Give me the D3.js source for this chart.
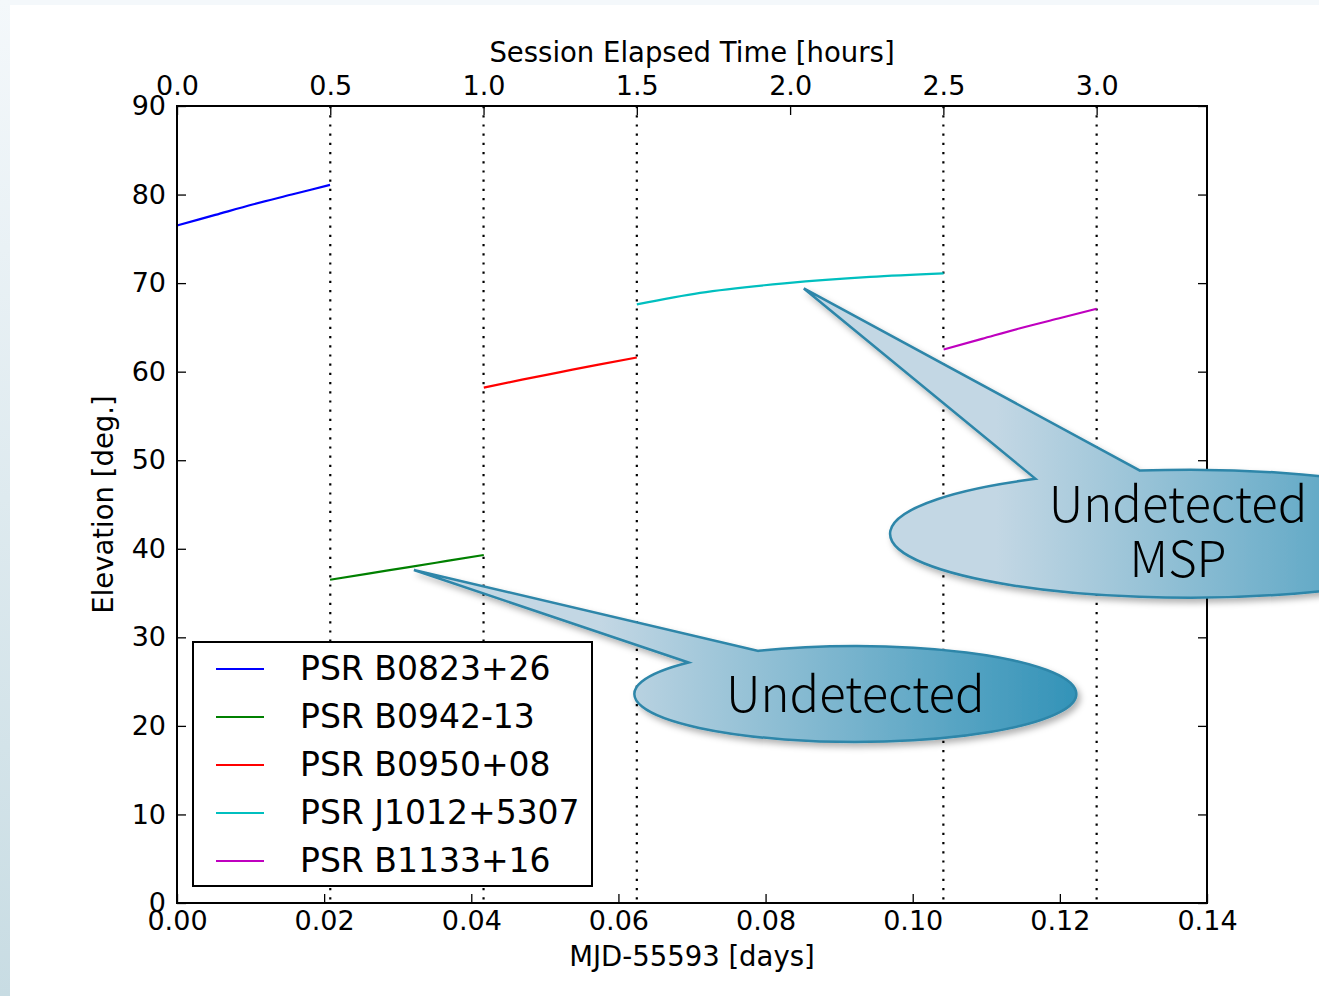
<!DOCTYPE html>
<html>
<head>
<meta charset="utf-8">
<script src="https://cdn.jsdelivr.net/npm/d3@7"></script>
<style>
    body { margin: 0; background: #fff; }
    svg { display: block; }
    .tick text { font-family: "DejaVu Sans", sans-serif; }
</style>
</head>
<body>
<svg id="chart"></svg>
<script>
const width = 1319;
const height = 996;
const margin = {top: 106, right: 112, bottom: 93, left: 177};

// pulsars, in legend order
const pulsars = ['PSR B0823+26', 'PSR B0942-13', 'PSR B0950+08', 'PSR J1012+5307', 'PSR B1133+16'];
const colors = ['#0000ff', '#008000', '#ff0000', '#00bfbf', '#bf00bf'];

// MJD-55593 [days] and elevation [deg]
const daysB0823 = [0.0000, 0.0052, 0.0104, 0.0156, 0.0208];
const elevB0823 = [76.5, 77.7, 78.9, 80.0, 81.1];
const daysB0942 = [0.0208, 0.0260, 0.0313, 0.0365, 0.0417];
const elevB0942 = [36.5, 37.2, 37.9, 38.6, 39.3];
const daysB0950 = [0.0417, 0.0469, 0.0521, 0.0573, 0.0625];
const elevB0950 = [58.2, 59.1, 59.95, 60.8, 61.6];
const daysJ1012 = [0.0625, 0.0711, 0.0829, 0.0942, 0.1042];
const elevJ1012 = [67.6, 68.9, 70.0, 70.7, 71.1];
const daysB1133 = [0.1042, 0.1094, 0.1146, 0.1198, 0.1250];
const elevB1133 = [62.5, 63.7, 64.9, 66.0, 67.1];

// session boundaries [hours]
const boundaries = [0.5, 1.0, 1.5, 2.5, 3.0];

const dayTicks = [0, 0.02, 0.04, 0.06, 0.08, 0.10, 0.12, 0.14];
const hourTicks = [0, 0.5, 1.0, 1.5, 2.0, 2.5, 3.0];
const elevTicks = [0, 10, 20, 30, 40, 50, 60, 70, 80, 90];

// callouts: tip and centre in data units (days, deg)
const calloutText = [['Undetected', 'MSP'], ['Undetected']];
const calloutTip = [[0.0852, 69.4], [0.0322, 37.6]];
const calloutCenter = [[0.1377, 41.7], [0.0922, 23.6]];

const series = [
    {days: daysB0823, elev: elevB0823},
    {days: daysB0942, elev: elevB0942},
    {days: daysB0950, elev: elevB0950},
    {days: daysJ1012, elev: elevJ1012},
    {days: daysB1133, elev: elevB1133}
].map((s, i) => ({
    name: pulsars[i],
    color: colors[i],
    points: s.days.map((d, j) => [d, s.elev[j]])
}));

const svg = d3.select('#chart')
    .attr('width', width)
    .attr('height', height);

const defs = svg.append('defs');
const side = defs.append('linearGradient')
    .attr('id', 'side')
    .attr('x1', 0).attr('x2', 0).attr('y1', 0).attr('y2', 1);
side.append('stop').attr('offset', 0).attr('stop-color', '#f4f8fb');
side.append('stop').attr('offset', 1).attr('stop-color', '#c8dce3');

const bubble = defs.append('linearGradient')
    .attr('id', 'bubble')
    .attr('x1', 0).attr('x2', 1).attr('y1', 0).attr('y2', 0);
bubble.append('stop').attr('offset', 0).attr('stop-color', '#c3d7e4');
bubble.append('stop').attr('offset', 0.28).attr('stop-color', '#c3d7e4');
bubble.append('stop').attr('offset', 1).attr('stop-color', '#3393b8');

const shadow = defs.append('filter')
    .attr('id', 'shadow')
    .attr('x', -0.2).attr('y', -0.2).attr('width', 1.4).attr('height', 1.6);
shadow.append('feDropShadow')
    .attr('dx', 3).attr('dy', 4)
    .attr('stdDeviation', 3)
    .attr('flood-color', '#000')
    .attr('flood-opacity', 0.3);

// slide background edges
svg.append('rect').attr('width', width).attr('height', 5).attr('fill', '#f4f8fb');
svg.append('rect').attr('width', 10).attr('height', height).attr('fill', 'url(#side)');

const x = d3.scaleLinear()
    .domain([0, 0.14])
    .range([margin.left, width - margin.right]);
const xHours = d3.scaleLinear()
    .domain([0, 0.14 * 24])
    .range([margin.left, width - margin.right]);
const y = d3.scaleLinear()
    .domain([0, 90])
    .range([height - margin.bottom, margin.top]);

const fmt2 = d3.format('.2f');
const fmt1 = d3.format('.1f');

function styleAxis(g, size) {
    g.select('.domain').remove();
    g.selectAll('.tick line').attr('stroke', '#000').attr('stroke-width', 1.3);
    g.selectAll('.tick text')
        .attr('fill', '#000')
        .style('font-size', size + 'px');
}

svg.append('g')
    .attr('transform', `translate(0,${y(0)})`)
    .call(d3.axisBottom(x).tickValues(dayTicks).tickFormat(fmt2).tickSize(-9).tickPadding(8))
    .call(g => styleAxis(g, 27));

svg.append('g')
    .attr('transform', `translate(0,${y(90)})`)
    .call(d3.axisTop(xHours).tickValues(hourTicks).tickFormat(fmt1).tickSize(-9).tickPadding(11))
    .call(g => styleAxis(g, 27));

svg.append('g')
    .attr('transform', `translate(${x(0)},0)`)
    .call(d3.axisLeft(y).tickValues(elevTicks).tickFormat(d3.format('d')).tickSize(-9).tickPadding(11))
    .call(g => styleAxis(g, 27));

svg.append('g')
    .attr('transform', `translate(${x(0.14)},0)`)
    .call(d3.axisRight(y).tickValues(elevTicks).tickFormat('').tickSize(-9))
    .call(g => styleAxis(g, 27));

// session boundaries
svg.append('g')
    .selectAll('line')
    .data(boundaries)
    .enter().append('line')
    .attr('x1', d => xHours(d))
    .attr('x2', d => xHours(d))
    .attr('y1', y(90))
    .attr('y2', y(0))
    .attr('stroke', '#000')
    .attr('stroke-width', 2.2)
    .attr('stroke-dasharray', '2.2 7');

const line = d3.line()
    .curve(d3.curveMonotoneX)
    .x(d => x(d[0]))
    .y(d => y(d[1]));

svg.append('g')
    .selectAll('path')
    .data(series)
    .enter().append('path')
    .attr('d', d => line(d.points))
    .attr('fill', 'none')
    .attr('stroke', d => d.color)
    .attr('stroke-width', 2.2);

// frame
svg.append('rect')
    .attr('x', x(0))
    .attr('y', y(90))
    .attr('width', x(0.14) - x(0))
    .attr('height', y(0) - y(90))
    .attr('fill', 'none')
    .attr('stroke', '#000')
    .attr('stroke-width', 2);

// axis titles
const labelFont = '"DejaVu Sans", sans-serif';
svg.append('text')
    .attr('x', (x(0) + x(0.14)) / 2)
    .attr('y', 62)
    .attr('text-anchor', 'middle')
    .style('font-family', labelFont)
    .style('font-size', '27.5px')
    .text('Session Elapsed Time [hours]');
svg.append('text')
    .attr('x', (x(0) + x(0.14)) / 2)
    .attr('y', 966)
    .attr('text-anchor', 'middle')
    .style('font-family', labelFont)
    .style('font-size', '27.5px')
    .text('MJD-55593 [days]');
svg.append('text')
    .attr('transform', `translate(113,${(y(0) + y(90)) / 2}) rotate(-90)`)
    .attr('text-anchor', 'middle')
    .style('font-family', labelFont)
    .style('font-size', '27.5px')
    .text('Elevation [deg.]');

// legend
const legend = svg.append('g').attr('transform', 'translate(193,642)');
legend.append('rect')
    .attr('width', 399)
    .attr('height', 244)
    .attr('fill', '#fff')
    .attr('stroke', '#000')
    .attr('stroke-width', 2);
const entry = legend.selectAll('g')
    .data(series)
    .enter().append('g')
    .attr('transform', (_, i) => `translate(0,${27 + i * 48})`);
entry.append('line')
    .attr('x1', 23).attr('x2', 71)
    .attr('stroke', d => d.color)
    .attr('stroke-width', 2.2);
entry.append('text')
    .attr('x', 107)
    .attr('y', 11)
    .style('font-family', labelFont)
    .style('font-size', '33px')
    .text(d => d.name);

// callouts
const calloutShape = [
    {rx: 300, ry: 64, a1: 121, a2: 99.6, size: 49, lineGap: 55, dx: -12, dy: 16},
    {rx: 221, ry: 48, a1: 139, a2: 116, size: 49, lineGap: 0, dx: 0, dy: 18}
];

calloutTip.forEach((tip, i) => {
    const s = calloutShape[i];
    const cx = x(calloutCenter[i][0]);
    const cy = y(calloutCenter[i][1]);
    const rad = Math.PI / 180;
    const p1 = [cx + s.rx * Math.cos(s.a1 * rad), cy - s.ry * Math.sin(s.a1 * rad)];
    const p2 = [cx + s.rx * Math.cos(s.a2 * rad), cy - s.ry * Math.sin(s.a2 * rad)];
    const path = `M${p1}L${x(tip[0])},${y(tip[1])}L${p2}A${s.rx},${s.ry} 0 1 1 ${p1}Z`;
    const g = svg.append('g');
    g.append('path')
        .attr('d', path)
        .attr('fill', 'url(#bubble)')
        .attr('stroke', '#2d86a9')
        .attr('stroke-width', 2.5)
        .attr('filter', 'url(#shadow)');
    const lines = calloutText[i];
    g.selectAll('text')
        .data(lines)
        .enter().append('text')
        .attr('x', cx + s.dx)
        .attr('y', (_, j) => cy + s.dy + (j - (lines.length - 1) / 2) * s.lineGap)
        .attr('text-anchor', 'middle')
        .style('font-family', '"Noto Sans CJK JP", "Noto Sans", sans-serif')
        .style('font-size', s.size + 'px')
        .style('font-weight', 300)
        .text(d => d);
});
</script>
</body>
</html>
